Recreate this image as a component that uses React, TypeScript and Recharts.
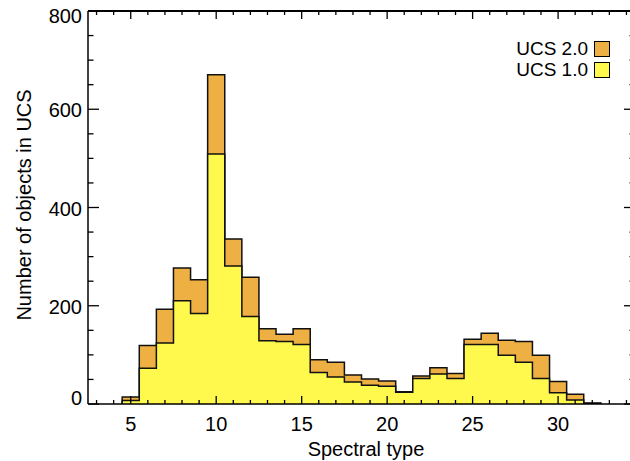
import React from 'react';
import { ComposedChart, Area, XAxis, YAxis } from 'recharts';

const spectralTypes = [5, 6, 7, 8, 9, 10, 11, 12, 13, 14, 15, 16, 17, 18, 19, 20, 21, 22, 23, 24, 25, 26, 27, 28, 29, 30, 31, 32];
const ucs2Counts = [14, 119, 193, 277, 253, 670, 336, 258, 153, 142, 153, 90, 85, 59, 51, 47, 25, 57, 74, 62, 132, 144, 130, 127, 99, 46, 20, 2];
const ucs1Counts = [7, 73, 124, 210, 184, 509, 281, 178, 129, 127, 121, 64, 55, 45, 38, 36, 24, 52, 61, 52, 121, 121, 99, 85, 52, 23, 8, 1];
const xTicks = [3, 4, 5, 6, 7, 8, 9, 10, 11, 12, 13, 14, 15, 16, 17, 18, 19, 20, 21, 22, 23, 24, 25, 26, 27, 28, 29, 30, 31, 32, 33, 34];
const yTicks = [0, 50, 100, 150, 200, 250, 300, 350, 400, 450, 500, 550, 600, 650, 700, 750, 800];
const legendLabels = ['UCS 2.0', 'UCS 1.0'];

const ORANGE = '#EEB042';
const YELLOW = '#FFF94E';
const FONT = '"Liberation Sans", Arial, Helvetica, sans-serif';

// Build step-histogram points at bin edges (bins centred on integer types)
const data: { x: number; ucs2: number; ucs1: number }[] = [];
data.push({ x: spectralTypes[0] - 0.5, ucs2: 0, ucs1: 0 });
spectralTypes.forEach((t, i) => {
  data.push({ x: t - 0.5, ucs2: ucs2Counts[i], ucs1: ucs1Counts[i] });
});
data.push({ x: spectralTypes[spectralTypes.length - 1] + 0.5, ucs2: 0, ucs1: 0 });

const BottomTick = (props: any) => {
  const { x, y, payload } = props;
  const v = payload.value;
  const major = v % 5 === 0;
  return (
    <g>
      <line x1={x} x2={x} y1={y} y2={y - (major ? 8 : 4)} stroke="#000" strokeWidth={1.3} />
      {major && (
        <text x={x} y={y + 27} textAnchor="middle" fontSize={20} fontFamily={FONT} fill="#000">
          {v}
        </text>
      )}
    </g>
  );
};

const TopTick = (props: any) => {
  const { x, y, payload } = props;
  const major = payload.value % 5 === 0;
  return <line x1={x} x2={x} y1={y} y2={y + (major ? 8 : 4)} stroke="#000" strokeWidth={1.3} />;
};

const LeftTick = (props: any) => {
  const { x, y, payload } = props;
  const v = payload.value;
  const major = v % 200 === 0;
  let dy = 8;
  if (v === 0) dy = 1;
  if (v === 800) dy = 12;
  return (
    <g>
      <line x1={x} x2={x + (major ? 11 : 5.5)} y1={y} y2={y} stroke="#000" strokeWidth={1.3} />
      {major && (
        <text x={x - 6} y={y + dy} textAnchor="end" fontSize={20} fontFamily={FONT} fill="#000">
          {v}
        </text>
      )}
    </g>
  );
};

const RightTick = (props: any) => {
  const { x, y, payload } = props;
  const major = payload.value % 200 === 0;
  return <line x1={x} x2={x - (major ? 11 : 5.5)} y1={y} y2={y} stroke="#000" strokeWidth={1.3} />;
};

export default function App() {
  const legendColors = [ORANGE, YELLOW];
  return (
    <div style={{ position: 'absolute', left: 0, top: 0, width: 630, height: 461, overflow: 'hidden', background: '#fff' }}>
      <ComposedChart width={640} height={461} data={data} margin={{ top: 0, right: 0, bottom: 0, left: 0 }}>
        <XAxis
          xAxisId="bottom"
          dataKey="x"
          type="number"
          domain={[2.5, 34.5]}
          allowDataOverflow
          ticks={xTicks}
          interval={0}
          height={57}
          tickSize={0}
          tickMargin={0}
          tickLine={false}
          axisLine={{ stroke: '#000', strokeWidth: 1.5 }}
          tick={<BottomTick />}
          label={() => (
            <text x={366} y={456} textAnchor="middle" fontSize={20} fontFamily={FONT} fill="#000">
              Spectral type
            </text>
          )}
        />
        <XAxis
          xAxisId="top"
          orientation="top"
          dataKey="x"
          type="number"
          domain={[2.5, 34.5]}
          allowDataOverflow
          ticks={xTicks}
          interval={0}
          height={11}
          tickSize={0}
          tickMargin={0}
          tickLine={false}
          axisLine={{ stroke: '#000', strokeWidth: 2 }}
          tick={<TopTick />}
        />
        <YAxis
          yAxisId="left"
          type="number"
          domain={[0, 800]}
          allowDataOverflow
          ticks={yTicks}
          interval={0}
          width={88}
          tickSize={0}
          tickMargin={0}
          tickLine={false}
          axisLine={{ stroke: '#000', strokeWidth: 1.5 }}
          tick={<LeftTick />}
          label={() => (
            <text
              x={31}
              y={205}
              transform="rotate(-90 31 205)"
              textAnchor="middle"
              fontSize={20}
              fontFamily={FONT}
              fill="#000"
            >
              Number of objects in UCS
            </text>
          )}
        />
        <YAxis
          yAxisId="right"
          orientation="right"
          type="number"
          domain={[0, 800]}
          allowDataOverflow
          ticks={yTicks}
          interval={0}
          width={5}
          tickSize={0}
          tickMargin={0}
          tickLine={false}
          axisLine={{ stroke: '#000', strokeWidth: 1.5 }}
          tick={<RightTick />}
        />
        <Area
          xAxisId="bottom"
          yAxisId="left"
          type="stepAfter"
          dataKey="ucs2"
          name="UCS 2.0"
          fill={ORANGE}
          fillOpacity={1}
          stroke="#111"
          strokeWidth={1.5}
          isAnimationActive={false}
          dot={false}
          activeDot={false}
        />
        <Area
          xAxisId="bottom"
          yAxisId="left"
          type="stepAfter"
          dataKey="ucs1"
          name="UCS 1.0"
          fill={YELLOW}
          fillOpacity={1}
          stroke="#111"
          strokeWidth={1.5}
          isAnimationActive={false}
          dot={false}
          activeDot={false}
        />
        <Area
          xAxisId="top"
          yAxisId="right"
          type="stepAfter"
          dataKey="ucs1"
          fill="none"
          stroke="none"
          isAnimationActive={false}
          dot={false}
          activeDot={false}
          legendType="none"
        />
      </ComposedChart>
      <div style={{ position: 'absolute', top: 38, left: 480, width: 130, fontFamily: FONT, fontSize: 19, color: '#000' }}>
        {legendLabels.map((label, i) => (
          <div key={label} style={{ display: 'flex', alignItems: 'center', justifyContent: 'flex-end', height: 21 }}>
            <span style={{ lineHeight: '21px' }}>{label}</span>
            <span
              style={{
                display: 'inline-block',
                width: 14,
                height: 14,
                marginLeft: 6,
                background: legendColors[i],
                border: '1.3px solid #000',
              }}
            />
          </div>
        ))}
      </div>
    </div>
  );
}
